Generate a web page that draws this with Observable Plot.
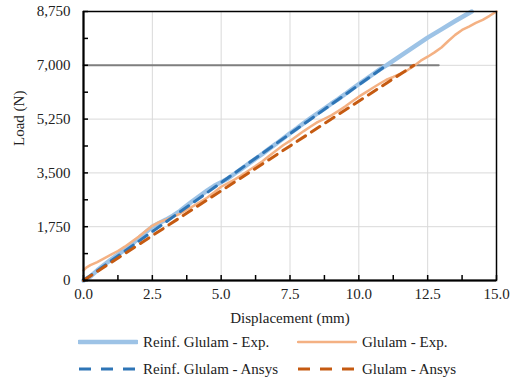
<!DOCTYPE html>
<html>
<head>
<meta charset="utf-8">
<script src="https://cdn.jsdelivr.net/npm/d3@7"></script>
<script src="https://cdn.jsdelivr.net/npm/@observablehq/plot@0.6"></script>
<style>
  html, body { margin: 0; padding: 0; background: #fff; }
  #wrap { position: relative; width: 515px; height: 381px; font-family: "Liberation Serif", "Times New Roman", Times, "DejaVu Serif", serif; }
  .leg { position: absolute; font-size: 15px; color: #222; display: flex; align-items: center; white-space: nowrap; }
  .leg svg { margin-right: 5px; }
  svg text { font-family: "Liberation Serif", "Times New Roman", Times, "DejaVu Serif", serif; }
</style>
</head>
<body>
<div id="wrap"></div>
<script>
// ---- data ----
const reinfExpX = [0, 0.25, 0.5, 0.75, 1.0, 1.25, 1.5, 1.75, 2.0, 2.25, 2.5, 2.75, 3.0, 3.25, 3.5, 3.75, 4.0, 4.25, 4.5, 4.75, 5.0, 5.25, 5.5, 5.75, 6.0, 6.25, 6.5, 6.75, 7.0, 7.25, 7.5, 7.75, 8.0, 8.25, 8.5, 8.75, 9.0, 9.25, 9.5, 9.75, 10.0, 10.25, 10.5, 10.75, 11.0, 11.5, 12.0, 12.5, 13.0, 13.5, 14.1];
const reinfExpY = [0, 130, 330, 510, 680, 840, 1000, 1180, 1370, 1560, 1750, 1870, 1980, 2110, 2260, 2440, 2610, 2770, 2930, 3080, 3200, 3320, 3480, 3640, 3800, 3960, 4120, 4290, 4450, 4620, 4790, 4950, 5120, 5280, 5440, 5590, 5750, 5900, 6060, 6230, 6390, 6540, 6700, 6860, 7000, 7300, 7600, 7900, 8170, 8440, 8750];

const glulamExpX = [0, 0.1, 0.25, 0.5, 0.75, 1.0, 1.25, 1.5, 1.75, 2.0, 2.25, 2.5, 2.75, 3.0, 3.25, 3.5, 3.75, 4.0, 4.25, 4.5, 4.75, 5.0, 5.25, 5.5, 5.75, 6.0, 6.25, 6.5, 6.75, 7.0, 7.25, 7.5, 7.75, 8.0, 8.25, 8.5, 8.75, 9.0, 9.25, 9.5, 9.75, 10.0, 10.25, 10.5, 10.75, 11.0, 11.25, 11.5, 11.75, 12.0, 12.25, 12.5, 12.75, 13.0, 13.25, 13.5, 13.75, 14.0, 14.25, 14.5, 14.75, 15.0];
const glulamExpY = [330, 420, 500, 600, 720, 840, 960, 1100, 1260, 1420, 1600, 1780, 1900, 1980, 2070, 2170, 2300, 2430, 2560, 2700, 2870, 3050, 3170, 3290, 3430, 3580, 3720, 3880, 4060, 4230, 4400, 4540, 4700, 4860, 5010, 5150, 5260, 5370, 5510, 5660, 5820, 5980, 6120, 6260, 6400, 6530, 6620, 6720, 6830, 6980, 7150, 7280, 7420, 7580, 7790, 7990, 8150, 8260, 8380, 8480, 8610, 8750];

const reinfAnsysX = [0, 5.5, 11.0];
const reinfAnsysY = [0, 3500, 7000];
const glulamAnsysX = [0, 6.0, 12.0];
const glulamAnsysY = [0, 3500, 7000];

const limitX = [0, 12.9];
const limitY = [7000, 7000];

const xMajorTicks = [0, 2.5, 5, 7.5, 10, 12.5, 15];
const xAllTicks = [0, 1.25, 2.5, 3.75, 5, 6.25, 7.5, 8.75, 10, 11.25, 12.5, 13.75, 15];
const yMajorTicks = [0, 1750, 3500, 5250, 7000, 8750];
const yAllTicks = [0, 875, 1750, 2625, 3500, 4375, 5250, 6125, 7000, 7875, 8750];

const xTitle = "Displacement (mm)";
const yTitle = "Load (N)";

const seriesNames = ["Reinf. Glulam - Exp.", "Glulam - Exp.", "Reinf. Glulam - Ansys", "Glulam - Ansys"];
const seriesColors = ["#9dc3e6", "#f4b183", "#2e75b6", "#c55a11"];

const toRows = (xs, ys) => xs.map((x, i) => ({x, y: ys[i]}));
const serif = "'Liberation Serif', 'Times New Roman', Times, 'DejaVu Serif', serif";

const chart = Plot.plot({
  width: 515,
  height: 330,
  marginTop: 11,
  marginLeft: 83,
  marginRight: 19,
  marginBottom: 50,
  style: {fontFamily: serif, fontSize: "15px", color: "#222", background: "#fff"},
  x: {domain: [0, 15]},
  y: {domain: [0, 8750]},
  marks: [
    Plot.gridX(xMajorTicks, {stroke: "#d9d9d9", strokeOpacity: 1, strokeWidth: 1}),
    Plot.gridY(yMajorTicks, {stroke: "#d9d9d9", strokeOpacity: 1, strokeWidth: 1}),
    Plot.axisX(xMajorTicks, {tickSize: 0, tickPadding: 8, tickFormat: d3.format(".1f"), label: null, fontSize: 15}),
    Plot.axisY(yMajorTicks, {tickSize: 0, tickPadding: 13, tickFormat: d3.format(","), label: null, fontSize: 15}),
    Plot.text([xTitle], {text: d => d, frameAnchor: "bottom", dy: 42, fontSize: 15}),
    Plot.text([yTitle], {text: d => d, frameAnchor: "left", dx: -64, rotate: -90, fontSize: 15}),
    Plot.line(toRows(limitX, limitY), {x: "x", y: "y", stroke: "#7f7f7f", strokeWidth: 2}),
    Plot.line(toRows(reinfExpX, reinfExpY), {x: "x", y: "y", stroke: seriesColors[0], strokeWidth: 4.5}),
    Plot.line(toRows(glulamExpX, glulamExpY), {x: "x", y: "y", stroke: seriesColors[1], strokeWidth: 2.5}),
    Plot.line(toRows(reinfAnsysX, reinfAnsysY), {x: "x", y: "y", stroke: seriesColors[2], strokeWidth: 3, strokeDasharray: "10,7"}),
    Plot.line(toRows(glulamAnsysX, glulamAnsysY), {x: "x", y: "y", stroke: seriesColors[3], strokeWidth: 3, strokeDasharray: "10,7"}),
    Plot.frame({stroke: "#000", strokeWidth: 1.5}),
    Plot.ruleX(xAllTicks, {x: d => d, y1: 0, y2: 0, insetTop: -5, stroke: "#000", strokeWidth: 1.5}),
    Plot.ruleY(yAllTicks, {y: d => d, x1: 0, x2: 0, insetRight: -5, stroke: "#000", strokeWidth: 1.5}),
    Plot.ruleX([0], {stroke: "#000", strokeWidth: 2}),
    Plot.ruleY([0], {stroke: "#000", strokeWidth: 2})
  ]
});

const wrap = document.getElementById("wrap");
wrap.appendChild(chart);

// legend below the SVG
const legPos = [
  {left: 78, top: 333},
  {left: 297, top: 333},
  {left: 78, top: 360},
  {left: 297, top: 360}
];
seriesNames.forEach((name, i) => {
  const div = document.createElement("div");
  div.className = "leg";
  div.style.left = legPos[i].left + "px";
  div.style.top = legPos[i].top + "px";
  const dashed = i >= 2;
  const sw = i === 0 ? 4.5 : (i === 1 ? 2.5 : 3);
  div.innerHTML = `<svg width="60" height="18"><line x1="1" y1="9" x2="59" y2="9" stroke="${seriesColors[i]}" stroke-width="${sw}" ${dashed ? 'stroke-dasharray="12,10"' : ''} stroke-linecap="${dashed ? 'butt' : 'round'}"/></svg><span>${name}</span>`;
  wrap.appendChild(div);
});
</script>
</body>
</html>
